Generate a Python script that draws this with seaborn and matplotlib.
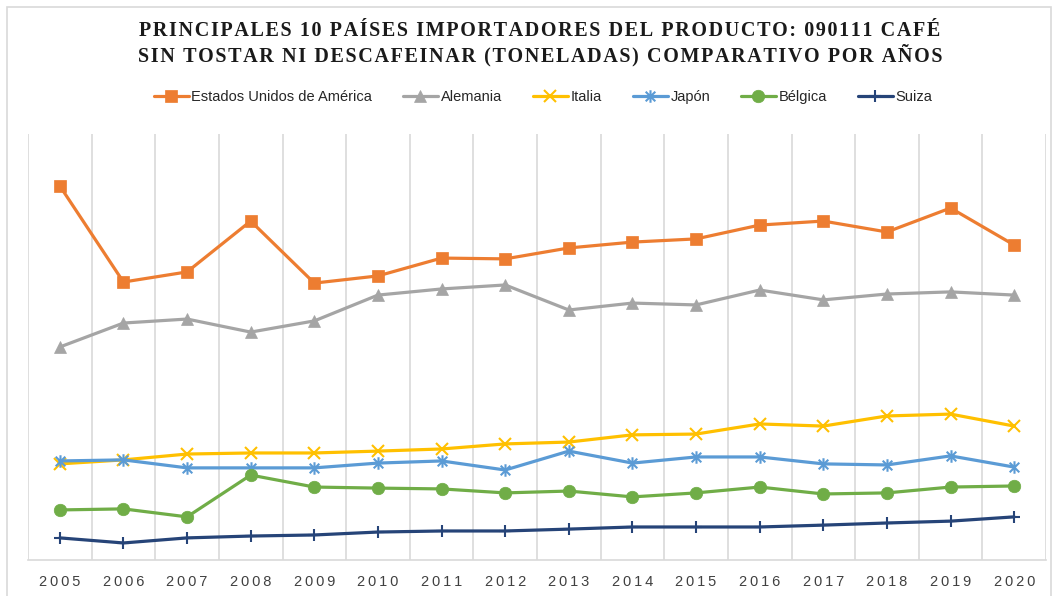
import numpy as np
import pandas as pd
import seaborn as sns
import matplotlib.pyplot as plt
from matplotlib.patches import Rectangle
from matplotlib.path import Path

# ============================================================
# Data (thousand tonnes)
# ============================================================

years = [str(y) for y in range(2005, 2021)]
paises = ["Estados Unidos de América", "Alemania", "Italia", "Japón", "Bélgica", "Suiza"]

usa = [1405, 1044, 1082, 1273, 1040, 1067, 1134, 1131, 1172, 1194, 1206, 1258, 1273, 1232, 1322, 1183]
alemania = [800, 890, 905, 856, 898, 995, 1018, 1033, 939, 965, 958, 1014, 977, 999, 1007, 995]
italia = [361, 376, 398, 402, 402, 409, 417, 436, 443, 470, 473, 511, 503, 541, 548, 503]
japon = [372, 376, 346, 346, 346, 364, 372, 338, 409, 364, 387, 387, 361, 357, 391, 349]
belgica = [188, 192, 162, 319, 274, 270, 267, 252, 259, 237, 252, 274, 248, 252, 274, 278]
suiza = [83, 64, 83, 90, 94, 105, 109, 109, 116, 124, 124, 124, 131, 139, 146, 162]

colores = ["#ED7D31", "#A5A5A5", "#FFC000", "#5B9BD5", "#70AD47", "#264478"]

# Excel style star: an x plus a vertical stroke
estrella = Path([(-1, -1), (1, 1), (-1, 1), (1, -1), (0, -1.3), (0, 1.3)],
                [Path.MOVETO, Path.LINETO, Path.MOVETO, Path.LINETO, Path.MOVETO, Path.LINETO])
marcadores = ["s", "^", "x", estrella, "o", "+"]
tamanos = [9, 8.5, 9, 9, 9, 9]

series = [usa, alemania, italia, japon, belgica, suiza]
df = pd.concat([
    pd.DataFrame({"pos": range(len(years)), "anio": years, "pais": p, "ton": v})
    for p, v in zip(paises, series)
])

# ============================================================
# Figure
# ============================================================

sns.set_style("white")
fig = plt.figure(figsize=(10.58, 5.96), dpi=100)
ax = fig.add_axes([28 / 1058, 36 / 596, 1018 / 1058, 426 / 596])

for p, c, m, ms in zip(paises, colores, marcadores, tamanos):
    lineal = isinstance(m, Path) or m in ("x", "+")
    sns.lineplot(data=df[df["pais"] == p], x="pos", y="ton", color=c, marker=m,
                 markersize=ms, markeredgecolor=c, markeredgewidth=1.5 if lineal else 0.5,
                 linewidth=2.3, label=p, ax=ax)

ax.set_xlim(-0.5, len(years) - 0.5)
ax.set_ylim(0, 1600)
ax.set_xticks(range(len(years)))
ax.set_xticklabels(["\u2009".join(y) for y in years], fontsize=10.5, color="#404040",
                   family="Liberation Sans")
ax.tick_params(axis="x", length=0, pad=11)
ax.set_xticks(np.arange(-0.5, len(years)), minor=True)
ax.grid(which="minor", axis="x", color="#D9D9D9", linewidth=1.2)
ax.set_yticks([])
ax.set_xlabel("")
ax.set_ylabel("")
for s in ["top", "right", "left"]:
    ax.spines[s].set_visible(False)
ax.spines["bottom"].set_color("#D9D9D9")
ax.spines["bottom"].set_linewidth(1.2)

# legend
handles, labels = ax.get_legend_handles_labels()
ax.legend_.remove()
fig.legend(handles, labels, loc="center", bbox_to_anchor=(543 / 1058, 1 - 97 / 596),
           ncol=6, frameon=False, handlelength=2.4, columnspacing=2.1,
           handletextpad=0.2, prop={"family": "Liberation Sans", "size": 10.5})

# title
titulo = ["PRINCIPALES 10 PAÍSES IMPORTADORES DEL PRODUCTO: 090111 CAFÉ",
          "SIN TOSTAR NI DESCAFEINAR (TONELADAS) COMPARATIVO POR AÑOS"]
for i, t in enumerate(titulo):
    fig.text(540 / 1058, 1 - (31 + 24 * i) / 596, "\u200a".join(t), ha="center", va="center",
             fontsize=14.5, fontweight="bold", family="Liberation Serif", color="#1a1a1a")

# chart border
fig.patches.append(Rectangle((7 / 1058, -0.01), 1044 / 1058, 1 - 7 / 596 + 0.01,
                             transform=fig.transFigure, fill=False, edgecolor="#D9D9D9", linewidth=1.2))

fig.savefig("out.png", dpi=100)
